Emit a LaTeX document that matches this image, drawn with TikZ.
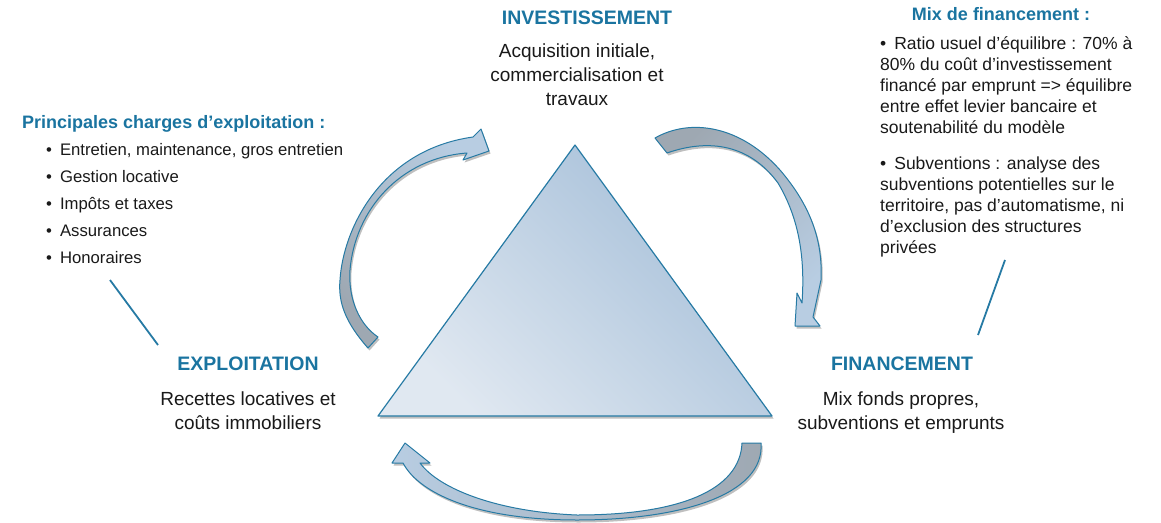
\documentclass[tikz,border=0pt]{standalone}
\usepackage{fontspec}
\setmainfont{Liberation Sans}
\usepackage{xcolor}
\usetikzlibrary{shadows}

\definecolor{titleblue}{RGB}{26,116,160}
\definecolor{edgeblue}{RGB}{38,122,164}
\definecolor{textgray}{RGB}{25,25,25}
\definecolor{trilight}{RGB}{224,232,241}
\definecolor{tridark}{RGB}{164,190,216}
\definecolor{arrowblue}{RGB}{184,205,226}
\definecolor{arrowgray}{RGB}{158,168,178}

\begin{document}
\begin{tikzpicture}[x=1pt,y=-1pt,
  poletitle/.style={font=\fontsize{19.5}{24}\selectfont\bfseries, text=titleblue, inner sep=0pt, anchor=base},
  polelabel/.style={font=\fontsize{19}{24}\selectfont, text=textgray, align=center, inner sep=0pt, anchor=base},
  boxtitle/.style={font=\fontsize{18}{22}\selectfont\bfseries, text=titleblue, inner sep=0pt, anchor=base},
  cyclearrow/.style={draw=edgeblue, line width=1pt, line join=round,
    drop shadow={shadow xshift=1.5pt, shadow yshift=-2.5pt, opacity=.25, fill=black}},
  pointer/.style={draw=edgeblue, line width=1.8pt}]
\useasboundingbox (0,0) rectangle (1161,522);

% curved arrows of the cycle
\path[cyclearrow, left color=arrowgray, right color=arrowblue, shading angle=135]
  (368,348) .. controls (345,322) and (338,302) .. (340,280)
  .. controls (343,230) and (380,150) .. (473,137)
  -- (481,129) -- (489,151) -- (463,160) -- (467,153)
  .. controls (400,158) and (355,210) .. (350,270)
  .. controls (348,300) and (360,325) .. (378,337) -- cycle;
\path[cyclearrow, left color=arrowgray, right color=arrowblue, shading angle=45]
  (655,138) .. controls (690,118) and (740,125) .. (780,170)
  .. controls (810,205) and (823,240) .. (821,280)
  -- (813,317) -- (820,326) -- (795,326) -- (797,293) -- (802,303)
  .. controls (805,260) and (800,220) .. (778,183)
  .. controls (750,145) and (710,138) .. (667,153) -- cycle;
\path[cyclearrow, left color=arrowblue, right color=arrowgray]
  (742,443) -- (761,443)
  .. controls (765,495) and (680,520) .. (577,520)
  .. controls (480,520) and (420,495) .. (403,463)
  -- (392,463) -- (405,443) -- (430,463) -- (420,463)
  .. controls (440,490) and (500,512) .. (577,515)
  .. controls (680,515) and (740,490) .. (742,443) -- cycle;

% central triangle
\coordinate (apex) at (575,145);
\coordinate (baseleft) at (378,416);
\coordinate (baseright) at (772,416);
\path[cyclearrow, line width=1.2pt, left color=trilight, right color=tridark, shading angle=135]
  (apex) -- (baseleft) -- (baseright) -- cycle;

% the three poles (multi-line nodes sit on their last baseline)
\node[poletitle] (invtitle) at (587,24) {INVESTISSEMENT};
\node[polelabel] (invtext) at (577,105) {Acquisition initiale,\\commercialisation et\\travaux};
\node[poletitle] (expltitle) at (248,370) {EXPLOITATION};
\node[polelabel] (expltext) at (248,429) {Recettes locatives et\\coûts immobiliers};
\node[poletitle] (fintitle) at (902,370) {FINANCEMENT};
\node[polelabel] (fintext) at (901,429) {Mix fonds propres,\\subventions et emprunts};

% operating costs
\node[boxtitle, anchor=base west] (chargestitle) at (22,128) {Principales charges d’exploitation :};
\node[font=\fontsize{16.7}{27}\selectfont, text=textgray, align=left, inner sep=0pt, anchor=base west] (charges) at (46,263)
  {\textbullet\hspace{8pt}Entretien, maintenance, gros entretien\\
   \textbullet\hspace{8pt}Gestion locative\\
   \textbullet\hspace{8pt}Impôts et taxes\\
   \textbullet\hspace{8pt}Assurances\\
   \textbullet\hspace{8pt}Honoraires};

% financing mix
\node[boxtitle] (mixtitle) at (1001,20) {Mix de financement :};
\node[font=\fontsize{17.5}{21}\selectfont, text=textgray, align=left, inner sep=0pt, anchor=base west] (mix) at (880,253)
  {\textbullet\hspace{8pt}Ratio usuel d’équilibre : 70\% à\\
   80\% du coût d’investissement\\
   financé par emprunt => équilibre\\
   entre effet levier bancaire et\\
   soutenabilité du modèle\\[15pt]
   \textbullet\hspace{8pt}Subventions : analyse des\\
   subventions potentielles sur le\\
   territoire, pas d’automatisme, ni\\
   d’exclusion des structures\\
   privées};

% pointer lines
\coordinate (chargesfoot) at (110,280);
\coordinate (explhead) at (158,345);
\coordinate (mixfoot) at (1005,260);
\coordinate (finhead) at (978,335);
\draw[pointer] (chargesfoot) -- (explhead);
\draw[pointer] (mixfoot) -- (finhead);
\end{tikzpicture}
\end{document}
